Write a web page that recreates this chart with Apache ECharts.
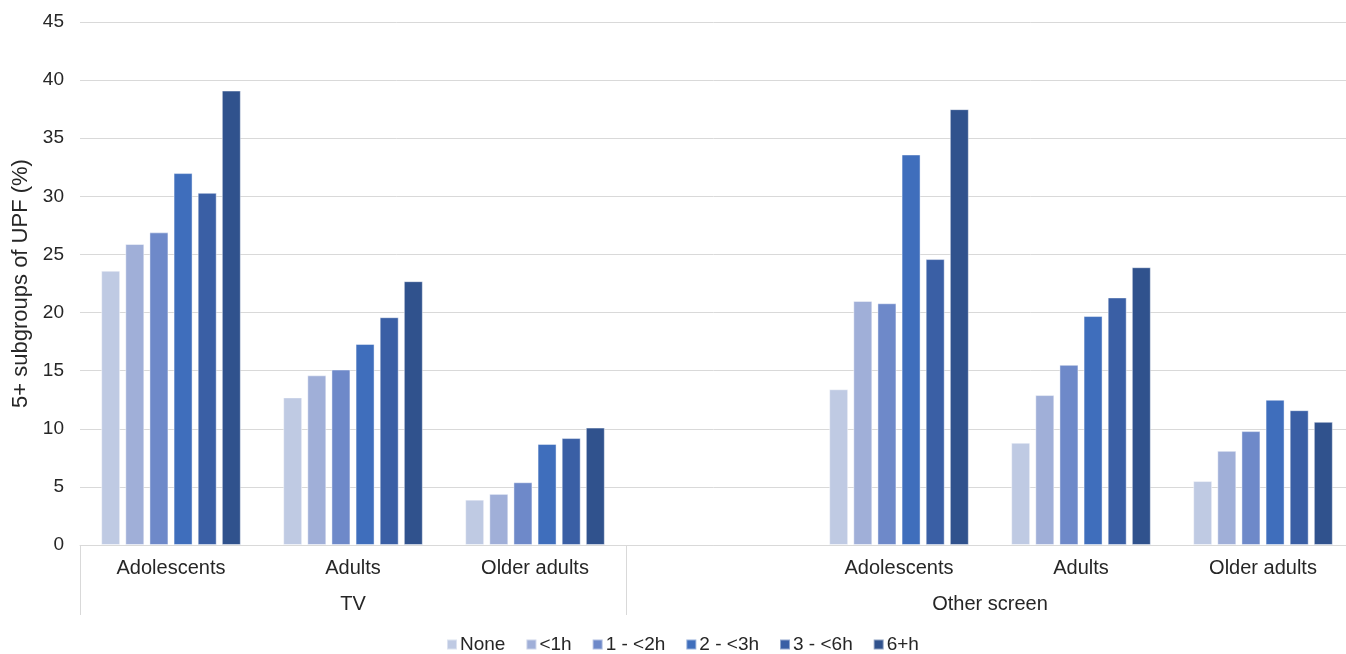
<!DOCTYPE html>
<html>
<head>
<meta charset="utf-8">
<script src="https://cdn.jsdelivr.net/npm/echarts@6/dist/echarts.min.js"></script>
<style>html,body{margin:0;padding:0;background:#fff}#c{width:1346px;height:654px}</style>
</head>
<body>
<div id="c"></div>
<script>
// Categories (4th slot is the empty gap that opens the "Other screen" group)
const categories = ['Adolescents', 'Adults', 'Older adults', '', 'Adolescents', 'Adults', 'Older adults'];
// Group labels placed on a half-step axis (15 points, boundaryGap false)
const groupSlots = ['', '', '', 'TV', '', '', '', '', '', '', 'Other screen', '', '', '', ''];
const seriesNames = ['None', '<1h', '1 - <2h', '2 - <3h', '3 - <6h', '6+h'];
const seriesColors = ['#bfcae3', '#a0afd8', '#6e89c9', '#3f6ebc', '#3a5fa5', '#30528d'];
const none   = [23.6, 12.7, 3.9, '-', 13.4, 8.8, 5.5];
const lt1h   = [25.9, 14.6, 4.4, '-', 21.0, 12.9, 8.1];
const h1to2  = [26.9, 15.1, 5.4, '-', 20.8, 15.5, 9.8];
const h2to3  = [32.0, 17.3, 8.7, '-', 33.6, 19.7, 12.5];
const h3to6  = [30.3, 19.6, 9.2, '-', 24.6, 21.3, 11.6];
const h6plus = [39.1, 22.7, 10.1, '-', 37.5, 23.9, 10.6];
const seriesData = [none, lt1h, h1to2, h2to3, h3to6, h6plus];
const yTicks = [0, 5, 10, 15, 20, 25, 30, 35, 40, 45];

const FONT = '"Liberation Sans", Arial, sans-serif';
const chart = echarts.init(document.getElementById('c'), null, {renderer: 'canvas'});
chart.setOption({
  animation: false,
  backgroundColor: '#fff',
  textStyle: {fontFamily: FONT, color: '#262626'},
  grid: {left: 80, width: 1274, top: 22, height: 523, containLabel: false, outerBoundsMode: 'none'},
  legend: {
    data: seriesNames,
    left: 446, top: 635, padding: 0,
    itemWidth: 10, itemHeight: 10, itemGap: 20,
    icon: 'rect',
    textStyle: {fontFamily: FONT, fontSize: 19, color: '#262626', padding: [0, 0, 0, -2]}
  },
  xAxis: [{
    type: 'category',
    data: categories,
    position: 'bottom',
    axisLine: {show: true, lineStyle: {color: '#d9d9d9', width: 1}},
    axisTick: {show: true, length: 70, interval: function (i) { return i === 0 || i === 3; }, lineStyle: {color: '#d9d9d9', width: 1}},
    axisLabel: {interval: 0, margin: 13, fontSize: 20, fontFamily: FONT, color: '#262626'},
    splitLine: {show: false}
  }, {
    type: 'category',
    data: groupSlots,
    boundaryGap: false,
    position: 'bottom',
    offset: 36,
    axisLine: {show: false},
    axisTick: {show: false},
    axisLabel: {interval: 0, margin: 13, fontSize: 20, fontFamily: FONT, color: '#262626'},
    splitLine: {show: false}
  }],
  yAxis: {
    type: 'value',
    min: yTicks[0], max: yTicks[yTicks.length - 1], interval: 5,
    name: '5+ subgroups of UPF (%)',
    nameLocation: 'middle', nameRotate: 90, nameGap: 46,
    nameTextStyle: {fontSize: 22, fontFamily: FONT, color: '#262626'},
    axisLine: {show: false}, axisTick: {show: false},
    axisLabel: {margin: 16, fontSize: 19, fontFamily: FONT, color: '#262626'},
    splitLine: {show: true, lineStyle: {color: '#d9d9d9', width: 1}}
  },
  series: seriesNames.map((n, i) => ({
    name: n,
    type: 'bar',
    xAxisIndex: 0,
    data: seriesData[i],
    barWidth: 19,
    barGap: '27%',
    itemStyle: {color: seriesColors[i], borderColor: 'rgba(255,255,255,0.45)', borderWidth: 1}
  }))
});
</script>
</body>
</html>
